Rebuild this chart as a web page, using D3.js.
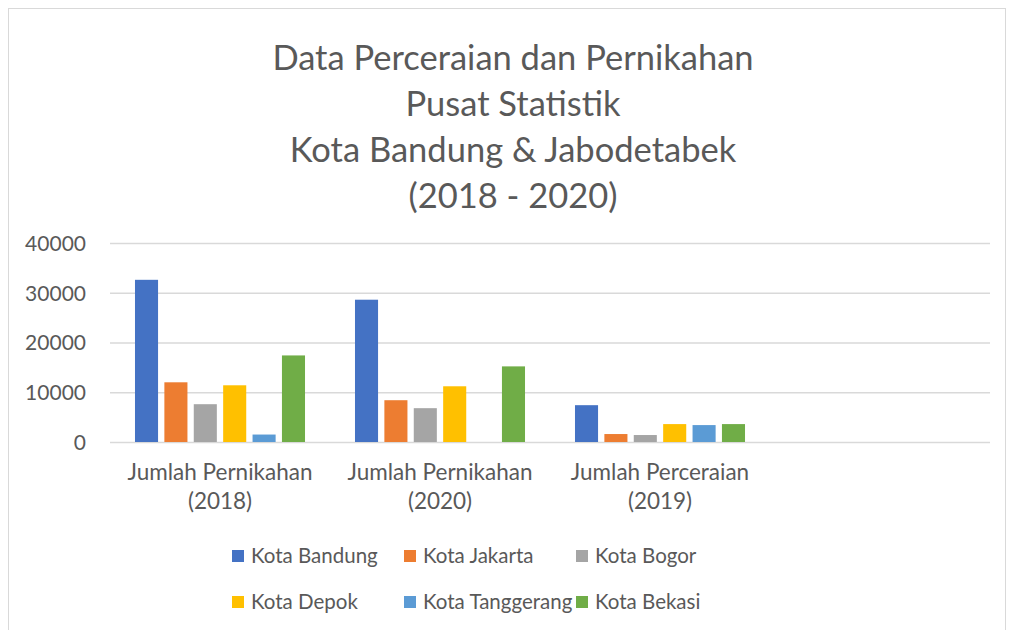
<!DOCTYPE html>
<html>
<head>
<meta charset="utf-8">
<script src="https://cdn.jsdelivr.net/npm/d3@7"></script>
<style>
  body { margin: 0; background: #fff; }
  text { font-family: Lato, "Open Sans", sans-serif; fill: #595959; }
</style>
</head>
<body>
<div id="chart"></div>
<script>
// Clustered column chart — perkawinan & perceraian per kota

const categories = [
  ['Jumlah Pernikahan', '(2018)'],
  ['Jumlah Pernikahan', '(2020)'],
  ['Jumlah Perceraian', '(2019)'],
  ['', '']
];
const series = ['Kota Bandung', 'Kota Jakarta', 'Kota Bogor', 'Kota Depok', 'Kota Tanggerang', 'Kota Bekasi'];
const colors = ['#4472C4', '#ED7D31', '#A5A5A5', '#FFC000', '#5B9BD5', '#70AD47'];
// values[series][category]
const values = [
  [32600, 28600, 7400, null],
  [12000, 8400, 1600, null],
  [7600, 6800, 1400, null],
  [11400, 11200, 3600, null],
  [1500, null, 3400, null],
  [17400, 15200, 3600, null]
];
const yTicks = [0, 10000, 20000, 30000, 40000];
const titleLines = ['Data Perceraian dan Pernikahan', 'Pusat Statistik', 'Kota Bandung & Jabodetabek', '(2018 - 2020)'];

const W = 1009, H = 630;
const plot = { left: 110, right: 990, top: 243, bottom: 442 };

const svg = d3.select('#chart').append('svg')
  .attr('width', W).attr('height', H);

// chart border
svg.append('rect')
  .attr('x', 8.5).attr('y', 8.5)
  .attr('width', 997).attr('height', 640)
  .attr('fill', 'none').attr('stroke', '#d9d9d9');

// Title
svg.append('g').selectAll('text')
  .data(titleLines)
  .join('text')
  .attr('x', 513)
  .attr('y', (d, i) => 70 + i * 46)
  .attr('text-anchor', 'middle')
  .attr('font-size', '34.5px')
  .text(d => d);

// Scales
const catKeys = categories.map((d, i) => i);
const x0 = d3.scaleBand()
  .domain(catKeys)
  .range([plot.left, plot.right]);

const x1 = d3.scaleBand()
  .domain(series)
  .range([0, x0.bandwidth()])
  .paddingInner(0.215)
  .paddingOuter(0.85);

const y = d3.scaleLinear()
  .domain([0, 40000])
  .range([plot.bottom, plot.top]);

// Grid + y labels
const yAxis = svg.append('g')
  .attr('transform', `translate(${plot.left},0)`)
  .call(d3.axisLeft(y).tickValues(yTicks).tickSize(-(plot.right - plot.left)).tickFormat(d3.format('d')));
yAxis.select('.domain').remove();
yAxis.selectAll('.tick line').attr('stroke', '#d9d9d9').attr('stroke-width', 1.4);
yAxis.selectAll('.tick text')
  .attr('x', -24)
  .attr('dy', '0.35em')
  .attr('font-size', '21px')
  .attr('fill', '#595959')
  .style('font-family', 'Lato, "Open Sans", sans-serif');

// Bars
const groups = svg.append('g').selectAll('g')
  .data(catKeys)
  .join('g')
  .attr('transform', c => `translate(${x0(c)},0)`);

groups.selectAll('rect')
  .data(c => series.map((s, si) => ({ s, si, v: values[si][c] })).filter(d => d.v != null))
  .join('rect')
  .attr('x', d => x1(d.s))
  .attr('y', d => y(d.v))
  .attr('width', x1.bandwidth())
  .attr('height', d => y(0) - y(d.v))
  .attr('fill', d => colors[d.si]);

// Category labels
const catLabels = svg.append('g').selectAll('text')
  .data(catKeys)
  .join('text')
  .attr('x', c => x0(c) + x0.bandwidth() / 2)
  .attr('y', 480)
  .attr('text-anchor', 'middle')
  .attr('font-size', '22.5px');
catLabels.append('tspan').text(c => categories[c][0]);
catLabels.append('tspan')
  .attr('x', c => x0(c) + x0.bandwidth() / 2)
  .attr('dy', 29)
  .text(c => categories[c][1]);

// Legend
const legend = svg.append('g');
series.forEach((s, i) => {
  const col = i % 3, row = Math.floor(i / 3);
  const lg = legend.append('g')
    .attr('transform', `translate(${232 + col * 172}, ${550 + row * 46})`);
  lg.append('rect')
    .attr('width', 12).attr('height', 12)
    .attr('fill', colors[i]);
  lg.append('text')
    .attr('x', 19)
    .attr('y', 13)
    .attr('font-size', '20.5px')
    .text(s);
});
</script>
</body>
</html>
